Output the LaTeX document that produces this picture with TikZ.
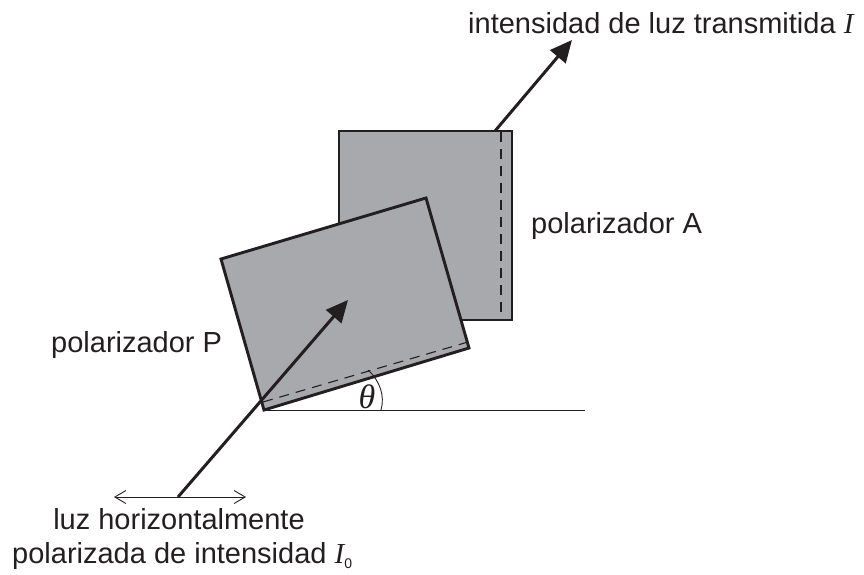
\documentclass[tikz,border=0pt]{standalone}
\usepackage{fontspec}
\setmainfont{Liberation Sans}
\newfontfamily\serifit[Ligatures=TeX]{Liberation Serif}
\usetikzlibrary{arrows.meta}
\definecolor{polgray}{HTML}{A7A9AC}
\definecolor{ink}{HTML}{231F20}
\tikzset{
  x=1pt,y=-1pt,
  plate/.style={fill=polgray,draw=ink,line width=2.9pt,line join=miter},
  axisline/.style={draw=ink,line width=1.1pt,dash pattern=on 10pt off 7pt},
  lightray/.style={draw=ink,line width=3pt,-{Triangle[length=22pt,width=20pt]}},
  thinline/.style={draw=ink,line width=0.9pt},
  label/.style={text=ink,font=\fontsize{29}{34}\selectfont,inner sep=0pt,align=center},
}
\begin{document}
\begin{tikzpicture}
\useasboundingbox (0,0) rectangle (864,575);
% polarizer A
\coordinate (a1) at (339,131);
\coordinate (a2) at (512,131);
\coordinate (a3) at (512,320);
\coordinate (a4) at (339,320);
\draw[plate] (a1) -- (a2) -- (a3) -- (a4) -- cycle;
\coordinate (adashT) at (501,132);
\coordinate (adashB) at (501,319);
\draw[axisline] (adashT) -- (adashB);
% polarizer P
\coordinate (p1) at (221,259);
\coordinate (p2) at (426,198);
\coordinate (p3) at (469,348);
\coordinate (p4) at (264,410);
\draw[plate] (p1) -- (p2) -- (p3) -- (p4) -- cycle;
\coordinate (pdashL) at (263,402);
\coordinate (pdashR) at (468,342);
\draw[axisline] (pdashL) -- (pdashR);
% reference line and angle
\coordinate (hEnd) at (585,410);
\draw[thinline] (p4) -- (hEnd);
\coordinate (arcA) at (381,410);
\coordinate (arcB) at (368,370);
\draw[thinline] (arcA) .. controls (385,396) and (380,381) .. (arcB);
\node[label,font=\fontsize{34}{36}\selectfont\serifit\itshape] (theta) at (367,397) {θ};
% rays
\coordinate (inStart) at (178,497);
\coordinate (inTip) at (348,300);
\draw[lightray] (inStart) -- (inTip);
\coordinate (outStart) at (495,131);
\coordinate (outTip) at (572,40);
\draw[lightray] (outStart) -- (outTip);
% polarization
\coordinate (polL) at (114,497);
\coordinate (polR) at (246,497);
\draw[thinline,{Straight Barb[length=11pt,width=13pt]}-{Straight Barb[length=11pt,width=13pt]}] (polL) -- (polR);
% labels
\node[label,anchor=base west] (tI) at (468,34) {intensidad de luz transmitida {\serifit\itshape I}};
\node[label,anchor=base west] (tA) at (531,233) {polarizador A};
\node[label,anchor=base west] (tP) at (51,352) {polarizador P};
\node[label,anchor=base] (tL) at (179,529) {luz horizontalmente};
\node[label,anchor=base west] (tG) at (12,563) {polarizada de intensidad {\serifit\itshape I}\raisebox{-5pt}{\fontsize{14}{14}\selectfont 0}};
\end{tikzpicture}
\end{document}
